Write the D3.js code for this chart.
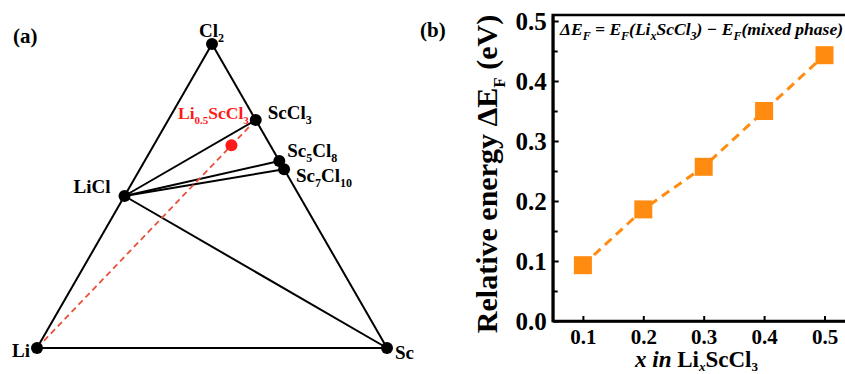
<!DOCTYPE html>
<html>
<head>
<meta charset="utf-8">
<script src="https://cdn.jsdelivr.net/npm/d3@7"></script>
<style>
  body { margin: 0; background: #fff; }
  svg text { font-family: "Liberation Serif", "Times New Roman", Times, serif; font-weight: bold; }
</style>
</head>
<body>
<svg id="chart" width="845" height="374"></svg>
<script>
// ---- data: panel (a) ternary phase diagram Li-Sc-Cl ----
const phases = ["Li", "Sc", "Cl2", "LiCl", "ScCl3", "Sc5Cl8", "Sc7Cl10"];
// atoms of [Li, Sc, Cl] per formula unit
const phaseAtoms = [[1, 0, 0], [0, 1, 0], [0, 0, 2], [1, 0, 1], [0, 1, 3], [0, 5, 8], [0, 7, 10]];
const tieLines = [
  ["Li", "Sc"], ["Li", "Cl2"], ["Cl2", "Sc"],
  ["LiCl", "ScCl3"], ["LiCl", "Sc5Cl8"], ["LiCl", "Sc7Cl10"], ["LiCl", "Sc"]
];
const targetName = "Li0.5ScCl3";
const targetAtoms = [0.5, 1, 3];

// ---- data: panel (b) relative energy ----
const xValues = [0.1, 0.2, 0.3, 0.4, 0.5];
const energies = [0.093, 0.186, 0.257, 0.350, 0.443];
const yMajorTicks = [0.0, 0.1, 0.2, 0.3, 0.4, 0.5];
const yMinorTicks = [0.05, 0.15, 0.25, 0.35, 0.45];

const SERIF = '"Liberation Serif", "Times New Roman", Times, serif';
const svg = d3.select("#chart");

// text with subscripts: parts = [text, isSub, italic]
function richText(sel, parts, size, subSize, shift = 0.28) {
  let down = false;
  sel.attr("font-family", SERIF).attr("font-weight", "bold");
  parts.forEach(([t, sub, it]) => {
    const ts = sel.append("tspan").text(t);
    if (sub && !down) { ts.attr("dy", size * shift); down = true; }
    else if (!sub && down) { ts.attr("dy", -size * shift); down = false; }
    ts.style("font-size", (sub ? subSize : size) + "px");
    if (it) ts.style("font-style", "italic");
  });
  return sel;
}

// ================= panel (a) =================
const tern = svg.append("g");
const tx = d3.scaleLinear().domain([0, 1]).range([37, 387]);
const ty = d3.scaleLinear().domain([0, Math.sqrt(3) / 2]).range([348, 44]);

function ternXY(atoms) {
  const s = atoms[0] + atoms[1] + atoms[2];
  const sc = atoms[1] / s, cl = atoms[2] / s;
  return [tx(sc + cl / 2), ty(cl * Math.sqrt(3) / 2)];
}
const pos = {};
phases.forEach((p, i) => { pos[p] = ternXY(phaseAtoms[i]); });
const targetPos = ternXY(targetAtoms);

tern.selectAll("line.tie")
  .data(tieLines)
  .join("line")
  .attr("class", "tie")
  .attr("x1", (d) => pos[d[0]][0]).attr("y1", (d) => pos[d[0]][1])
  .attr("x2", (d) => pos[d[1]][0]).attr("y2", (d) => pos[d[1]][1])
  .attr("stroke", "#000")
  .attr("stroke-width", 2);

// dashed composition line Li -> ScCl3 through target
tern.append("line")
  .attr("x1", pos.Li[0]).attr("y1", pos.Li[1])
  .attr("x2", pos.ScCl3[0]).attr("y2", pos.ScCl3[1])
  .attr("stroke", "#e8503a")
  .attr("stroke-width", 1.8)
  .attr("stroke-dasharray", "6,4");

tern.selectAll("circle.phase")
  .data(phases)
  .join("circle")
  .attr("class", "phase")
  .attr("cx", (d) => pos[d][0])
  .attr("cy", (d) => pos[d][1])
  .attr("r", 6)
  .attr("fill", "#000");

tern.append("circle")
  .attr("cx", targetPos[0]).attr("cy", targetPos[1])
  .attr("r", 6).attr("fill", "#ff1a1a");

// labels
const labelParts = {
  Li: [["Li"]],
  Sc: [["Sc"]],
  Cl2: [["Cl"], ["2", true]],
  LiCl: [["LiCl"]],
  ScCl3: [["ScCl"], ["3", true]],
  Sc5Cl8: [["Sc"], ["5", true], ["Cl"], ["8", true]],
  Sc7Cl10: [["Sc"], ["7", true], ["Cl"], ["10", true]]
};
const labelOffset = {
  Li: [-7, 9, "end"], Sc: [8, 11, "start"], Cl2: [-13, -7, "start"],
  LiCl: [-14, -3, "end"], ScCl3: [12, -1, "start"],
  Sc5Cl8: [8, -4, "start"], Sc7Cl10: [12, 13, "start"]
};
phases.forEach((p) => {
  const [dx, dy, anchor] = labelOffset[p];
  const t = tern.append("text")
    .attr("x", pos[p][0] + dx)
    .attr("y", pos[p][1] + dy)
    .attr("text-anchor", anchor)
    .attr("fill", "#000");
  richText(t, labelParts[p], 19, 12);
});

const tLabel = tern.append("text")
  .attr("x", pos.ScCl3[0] - 7)
  .attr("y", pos.ScCl3[1] - 1)
  .attr("text-anchor", "end")
  .attr("fill", "#ff1a1a");
richText(tLabel, [["Li"], ["0.5", true], ["ScCl"], ["3", true]], 17.5, 11);

richText(svg.append("text").attr("x", 13).attr("y", 43), [["(a)"]], 21, 12);
richText(svg.append("text").attr("x", 420).attr("y", 37), [["(b)"]], 21, 12);

// ================= panel (b) =================
const x = d3.scaleLinear().domain([0.05, 0.55]).range([552.7, 854.7]);
const y = d3.scaleLinear().domain([0, 0.51]).range([321, 15]);
const plot = svg.append("g");

// frame
plot.append("rect")
  .attr("x", x(0.05)).attr("y", y(0.51))
  .attr("width", x(0.55) - x(0.05)).attr("height", y(0) - y(0.51))
  .attr("fill", "none").attr("stroke", "#000").attr("stroke-width", 2.5);

const yAxis = plot.append("g")
  .attr("transform", `translate(${x(0.05)},0)`)
  .call(d3.axisLeft(y).tickValues(yMajorTicks).tickSize(-6).tickSizeOuter(0)
    .tickPadding(6).tickFormat(d3.format(".1f")));
plot.append("g")
  .attr("transform", `translate(${x(0.05)},0)`)
  .call(d3.axisLeft(y).tickValues(yMinorTicks).tickSize(-5).tickSizeOuter(0).tickFormat(""));
yAxis.selectAll("text").style("font-size", "25px");

const xAxis = plot.append("g")
  .attr("transform", `translate(0,${y(0)})`)
  .call(d3.axisBottom(x).tickValues(xValues).tickSize(-5).tickSizeOuter(0)
    .tickPadding(8).tickFormat(d3.format(".1f")));
xAxis.selectAll("text").style("font-size", "21px");

plot.selectAll("g").attr("font-family", SERIF);
plot.selectAll(".domain").attr("stroke-width", 2.5);
plot.selectAll(".tick line").attr("stroke-width", 2);
plot.selectAll(".tick text").attr("fill", "#000")
  .style("font-family", SERIF).style("font-weight", "bold");

// series
const pts = xValues.map((v, i) => [v, energies[i]]);
plot.append("path")
  .datum(pts)
  .attr("fill", "none")
  .attr("stroke", "#ff8c10")
  .attr("stroke-width", 3)
  .attr("stroke-dasharray", "9,6")
  .attr("d", d3.line().x((d) => x(d[0])).y((d) => y(d[1])));

plot.selectAll("rect.pt")
  .data(pts)
  .join("rect")
  .attr("class", "pt")
  .attr("x", (d) => x(d[0]) - 9)
  .attr("y", (d) => y(d[1]) - 9)
  .attr("width", 18).attr("height", 18)
  .attr("fill", "#ff8c10");

// formula
const formula = plot.append("text").attr("x", 560).attr("y", 35);
richText(formula, [
  ["ΔE", false, true], ["F", true, true], [" = E", false, true], ["F", true, true],
  ["(Li", false, true], ["x", true, true], ["ScCl", false, true], ["3", true, true],
  [") − E", false, true], ["F", true, true], ["(mixed phase)", false, true]
], 17.5, 12);

// axis titles
const xt = plot.append("text").attr("x", 635).attr("y", 367);
richText(xt, [["x in ", false, true], ["Li"], ["x", true, true], ["ScCl"], ["3", true]], 23, 13, 0.18);

const yt = plot.append("text")
  .attr("transform", "translate(497,174) rotate(-90)")
  .attr("text-anchor", "middle");
richText(yt, [["Relative energy ΔE"], ["F", true], [" (eV)"]], 30, 17);
</script>
</body>
</html>
